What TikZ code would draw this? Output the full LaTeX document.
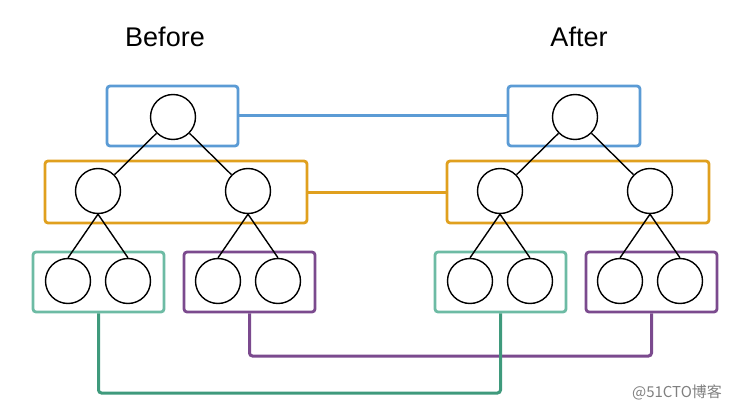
\documentclass[tikz,border=0pt]{standalone}
\usepackage{fontspec}
\setmainfont{Liberation Sans}
\newfontfamily\cjk{Noto Sans CJK SC}
\definecolor{cblue}{HTML}{5B9BD5}
\definecolor{corange}{HTML}{E0A01E}
\definecolor{cgreen}{HTML}{6DBBA4}
\definecolor{cgreenline}{HTML}{3F9A7C}
\definecolor{cpurple}{HTML}{7B4A8E}
\begin{document}
\begin{tikzpicture}[x=1pt,y=-1pt,
  grp/.style={draw, line width=2.8pt, rounded corners=3pt, inner sep=0pt, minimum height=60pt},
  nd/.style={circle, draw, line width=1.4pt, inner sep=0pt, minimum size=45pt},
  treeedge/.style={line width=1.4pt},
  grplink/.style={line width=3pt, rounded corners=3pt},
  ttl/.style={font=\fontsize{27}{30}\selectfont, anchor=base}]
\useasboundingbox (0,0) rectangle (736,409);
% titles
\node[ttl] (tb) at (165,47) {Before};
\node[ttl] (ta) at (579,47) {After};
% links (drawn first, under the boxes)
\coordinate (gy) at (300,393);
\coordinate (py) at (450,356);
% Before groups
\node[grp, draw=cblue, minimum width=131pt] (lb) at (172.5,116) {};
\node[grp, draw=corange, minimum width=262pt, minimum height=62pt] (lo) at (176,192) {};
\node[grp, draw=cgreen, minimum width=131pt] (lg) at (98.5,282) {};
\node[grp, draw=cpurple, minimum width=131pt] (lp) at (249.5,282) {};
% After groups
\node[grp, draw=cblue, minimum width=132pt] (rb) at (574,116) {};
\node[grp, draw=corange, minimum width=262pt, minimum height=62pt] (ro) at (578,192) {};
\node[grp, draw=cgreen, minimum width=131pt] (rg) at (500.5,282) {};
\node[grp, draw=cpurple, minimum width=131pt] (rp) at (651.5,282) {};
% Before tree
\node[nd] (a0) at (173,117) {};
\node[nd] (a1) at (98,191) {};
\node[nd] (a2) at (248,191) {};
\node[nd] (a3) at (68,281) {};
\node[nd] (a4) at (128,281) {};
\node[nd] (a5) at (218,281) {};
\node[nd] (a6) at (278,281) {};
\draw[treeedge] (a0) -- (a1);
\draw[treeedge] (a0) -- (a2);
\draw[treeedge] (a1.south) -- (a3.north);
\draw[treeedge] (a1.south) -- (a4.north);
\draw[treeedge] (a2.south) -- (a5.north);
\draw[treeedge] (a2.south) -- (a6.north);
% After tree
\node[nd] (b0) at (575,117) {};
\node[nd] (b1) at (500,191) {};
\node[nd] (b2) at (650,191) {};
\node[nd] (b3) at (470,281) {};
\node[nd] (b4) at (530,281) {};
\node[nd] (b5) at (620,281) {};
\node[nd] (b6) at (680,281) {};
\draw[treeedge] (b0) -- (b1);
\draw[treeedge] (b0) -- (b2);
\draw[treeedge] (b1.south) -- (b3.north);
\draw[treeedge] (b1.south) -- (b4.north);
\draw[treeedge] (b2.south) -- (b5.north);
\draw[treeedge] (b2.south) -- (b6.north);
% links
\draw[grplink, draw=cblue] (lb.east) -- (rb.west);
\draw[grplink, draw=corange] (lo.east) -- (ro.west);
\draw[grplink, draw=cpurple] (lp.south) |- (py) -| (rp.south);
\draw[grplink, draw=cgreenline] (lg.south) |- (gy) -| (rg.south);
% watermark
\node[text=black!50, font=\cjk\fontsize{15}{17}\selectfont] (wm) at (677,392) {@51CTO博客};
\end{tikzpicture}
\end{document}
